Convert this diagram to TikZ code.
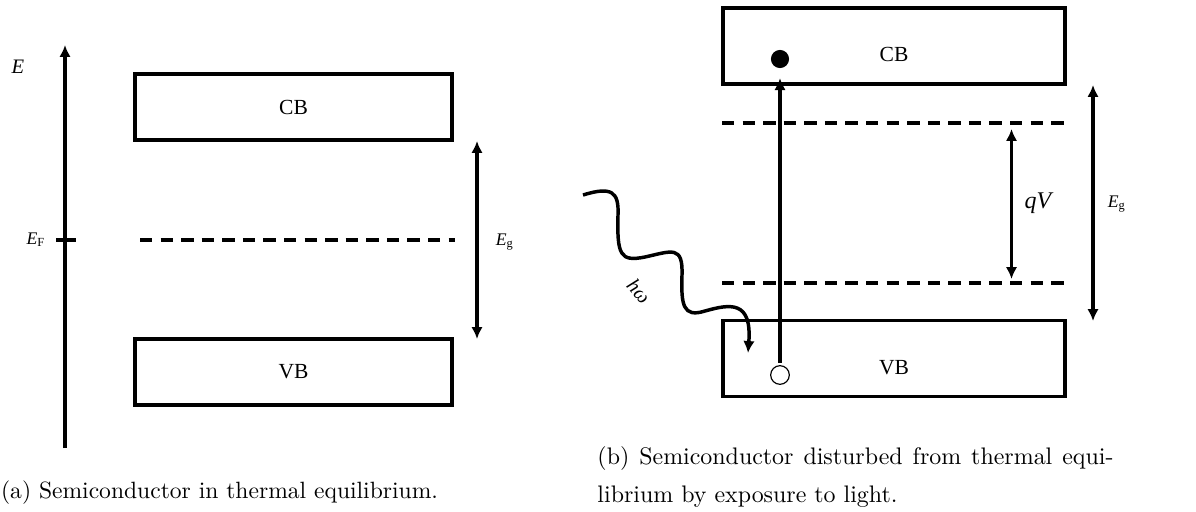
\documentclass[tikz,border=0pt]{standalone}
\usepackage{fontspec}
\newfontfamily\labfont{Liberation Serif}
\usetikzlibrary{positioning, arrows.meta}

\begin{document}
\begin{tikzpicture}[
    x=0.418pt, y=-0.418pt,
    band/.style={
      rectangle, draw, line width=1.45pt,
      minimum width=132.5pt, minimum height=27.6pt,
      inner sep=0pt, font=\labfont\fontsize{9}{10.8}\selectfont
    },
    bandWide/.style={band, minimum width=143pt, minimum height=31.8pt},
    level/.style={line width=1.45pt, dash pattern=on 5.2pt off 3.4pt},
    arr/.style={-{Latex[length=5pt,width=4.8pt]}, line width=1.45pt},
    arrBoth/.style={{Latex[length=5pt,width=4.8pt]}-{Latex[length=5pt,width=4.8pt]}, line width=1.45pt},
    lab/.style={inner sep=0pt, font=\labfont\fontsize{9}{10.8}\selectfont},
    smallLab/.style={inner sep=0pt, font=\labfont\fontsize{7.4}{8.5}\selectfont},
    capt/.style={inner sep=0pt, font=\fontsize{9.85}{16}\selectfont, align=left}
  ]
  \useasboundingbox (0,0) rectangle (1196,511);

  % (a) thermal equilibrium
  \coordinate (axisBot) at (65,448);
  \coordinate (axisTop) at (65,45);
  \draw[arr, line width=1.7pt] (axisBot) -- (axisTop);
  \node[inner sep=0pt, font=\labfont\fontsize{8.6}{10}\selectfont] (eLab) at (18,67) {\itshape E};
  \draw[line width=1.7pt] (56,240) -- (76,240);
  \node[smallLab] (efLab) at (36,240) {\itshape E\textup{\textsubscript{F}}};

  \node[band] (cbA) at (293.5,107) {CB};
  \node[band] (vbA) at (293.5,372) {VB};
  \draw[level] (140,240) -- (455,240);

  \coordinate (egTopA) at (477,141);
  \coordinate (egBotA) at (477,339);
  \draw[arrBoth] (egTopA) -- (egBotA);
  \node[smallLab] (egLabA) at (505,242) {\itshape E\textup{\textsubscript{g}}};

  \node[capt] (captA) at (219.5,493) {(a) Semiconductor in thermal equilibrium.};

  % (b) exposed to light
  \node[bandWide] (cbB) at (894,46) {};
  \node[lab] at ([yshift=-3.6pt]cbB.center) {CB};
  \node[bandWide] (vbB) at (894,358.5) {};
  \node[lab] at ([yshift=-4pt]vbB.center) {VB};

  \draw[level] (722,123) -- (1068,123);
  \draw[level] (722,283) -- (1068,283);

  \coordinate (qvTop) at (1011.5,129);
  \coordinate (qvBot) at (1011.5,279);
  \draw[arrBoth] (qvTop) -- (qvBot);
  \node[inner sep=0pt, font=\labfont\fontsize{10}{12}\selectfont] (qvLab) at (1038,203) {\itshape qV};

  \coordinate (egTopB) at (1093,85);
  \coordinate (egBotB) at (1093,321);
  \draw[arrBoth] (egTopB) -- (egBotB);
  \node[smallLab] (egLabB) at (1117,204) {\itshape E\textup{\textsubscript{g}}};

  \node[circle, fill, minimum size=7.6pt, inner sep=0pt] (elec) at (780,59) {};
  \node[circle, draw, line width=0.5pt, minimum size=7.8pt, inner sep=0pt] (hole) at (780,375) {};
  \draw[arr, shorten >=4pt, shorten <=1pt] (hole.north) -- (elec.south);

  % photon
  \coordinate (photonEnd) at (748,353);
  \draw[arr] (583,195) .. controls (612,186) and (619,192) .. (618,215)
    .. controls (617,255) and (620,262) .. (645,257)
    .. controls (672,251) and (683,245) .. (682,275)
    .. controls (681,305) and (683,318) .. (705,311)
    .. controls (730,304) and (752,300) .. (photonEnd);
  \node[inner sep=0pt, rotate=-48, font=\labfont\fontsize{8.5}{10}\selectfont] (hwLab) at (639,291) {\itshape hω};

  \node[capt, font=\fontsize{10}{16}\selectfont, anchor=north west] (captB) at (597,446)
    {\hbox to 215.7pt{(b) Semiconductor disturbed from thermal equi-}\\librium by exposure to light.};
\end{tikzpicture}
\end{document}
